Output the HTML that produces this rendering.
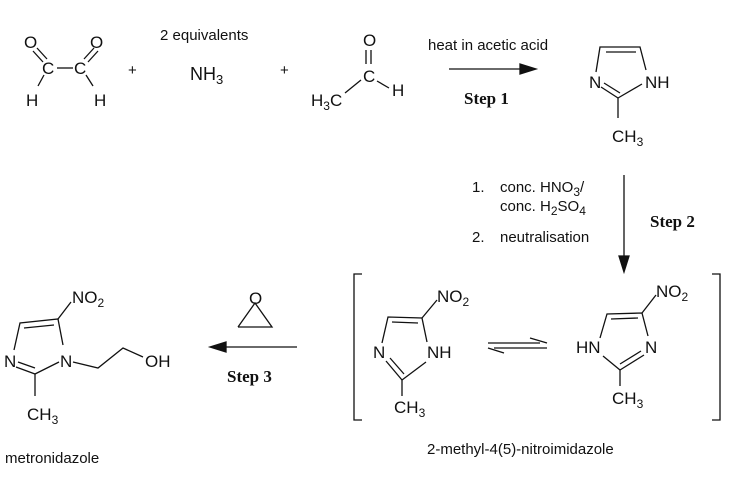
<!DOCTYPE html>
<html><head><style>body{margin:0;background:#fff}svg{display:block}
text{font-family:"Liberation Sans",Arial,sans-serif;font-size:17px;fill:#111}
.s{font-size:15px}.b{font-family:"Liberation Serif",serif;font-weight:bold;font-size:17px}
.sub{font-size:12px}</style></head><body>
<svg width="733" height="479" viewBox="0 0 733 479" xmlns="http://www.w3.org/2000/svg" stroke="#111" stroke-width="1.3" fill="none">
<g>
<line x1="33" y1="51" x2="43" y2="62"/><line x1="37" y1="48" x2="47" y2="59"/>
<line x1="98" y1="51" x2="88" y2="62"/><line x1="94" y1="48" x2="84" y2="59"/>
<line x1="57" y1="68" x2="73" y2="68"/>
<line x1="44" y1="75" x2="38" y2="86"/><line x1="86" y1="75" x2="93" y2="86"/>
</g>
<g stroke="none">
<text x="24" y="48">O</text><text x="90" y="48">O</text>
<text x="42" y="74">C</text><text x="74" y="74">C</text>
<text x="26" y="106">H</text><text x="94" y="106">H</text>
<text x="128" y="75" class="s">+</text>
<text x="160" y="40" class="s">2 equivalents</text>
<text x="190" y="80" style="font-size:18px">NH<tspan class="sub" dy="4" style="font-size:13px">3</tspan></text>
<text x="280" y="75" class="s">+</text>
<text x="363" y="46">O</text><text x="363" y="82">C</text>
<text x="311" y="106">H<tspan class="sub" dy="4">3</tspan><tspan dy="-4">C</tspan></text>
<text x="392" y="96">H</text>
<text x="428" y="50" class="s">heat in acetic acid</text>
<text x="464" y="104" class="b">Step 1</text>
</g>
<line x1="366" y1="50" x2="366" y2="64"/><line x1="371" y1="50" x2="371" y2="64"/>
<line x1="345" y1="93" x2="361" y2="80"/><line x1="377" y1="81" x2="389" y2="88"/>
<line x1="449" y1="69" x2="522" y2="69"/><polygon points="536,69 520,64 520,74" fill="#111"/>
<polyline points="596,72 600,47 640,47 646,70"/>
<line x1="606" y1="52" x2="636" y2="52"/>
<line x1="601" y1="87" x2="618" y2="98"/><line x1="604" y1="83" x2="620" y2="93"/>
<line x1="618" y1="98" x2="642" y2="84"/><line x1="618" y1="98" x2="618" y2="118"/>
<g stroke="none">
<text x="589" y="88">N</text><text x="645" y="88">NH</text>
<text x="612" y="142">CH<tspan class="sub" dy="4">3</tspan></text>
<text x="472" y="192" class="s">1.</text><text x="500" y="192" class="s">conc. HNO<tspan class="sub" dy="4">3</tspan><tspan dy="-4">/</tspan></text>
<text x="500" y="211" class="s">conc. H<tspan class="sub" dy="4">2</tspan><tspan dy="-4">SO</tspan><tspan class="sub" dy="4">4</tspan></text>
<text x="472" y="242" class="s">2.</text><text x="500" y="242" class="s">neutralisation</text>
<text x="650" y="227" class="b">Step 2</text>
</g>
<line x1="624" y1="175" x2="624" y2="258"/><polygon points="624,272 619,256 629,256" fill="#111"/>
<polyline points="362,274 354,274 354,420 362,420"/>
<polyline points="712,274 720,274 720,420 712,420"/>
<polyline points="382,343 388,317 422,318 427,342"/>
<line x1="392" y1="322" x2="418" y2="323"/>
<line x1="422" y1="318" x2="437" y2="300"/>
<line x1="386" y1="361" x2="402" y2="380"/><line x1="390" y1="358" x2="404" y2="374"/>
<line x1="402" y1="380" x2="426" y2="362"/><line x1="402" y1="380" x2="402" y2="396"/>
<g stroke="none">
<text x="437" y="302">NO<tspan class="sub" dy="4">2</tspan></text>
<text x="373" y="358">N</text><text x="427" y="358">NH</text>
<text x="394" y="413">CH<tspan class="sub" dy="4">3</tspan></text>
</g>
<line x1="488" y1="343" x2="540" y2="343"/><polyline points="530,338 547,343" />
<line x1="494" y1="348" x2="547" y2="348"/><polyline points="504,353 488,348"/>
<polyline points="600,338 607,314 642,313 648,336"/>
<line x1="611" y1="319" x2="638" y2="318"/>
<line x1="642" y1="313" x2="656" y2="295"/>
<line x1="603" y1="356" x2="620" y2="370"/>
<line x1="620" y1="370" x2="644" y2="355"/><line x1="620" y1="364" x2="641" y2="351"/>
<line x1="620" y1="370" x2="620" y2="386"/>
<g stroke="none">
<text x="656" y="297">NO<tspan class="sub" dy="4">2</tspan></text>
<text x="576" y="353">HN</text><text x="645" y="353">N</text>
<text x="612" y="404">CH<tspan class="sub" dy="4">3</tspan></text>
<text x="427" y="454" class="s">2-methyl-4(5)-nitroimidazole</text>
</g>
<polyline points="238,327 255,303 272,327 238,327"/>
<g stroke="none"><text x="249" y="304">O</text>
<text x="227" y="382" class="b">Step 3</text></g>
<line x1="297" y1="347" x2="222" y2="347"/><polygon points="210,347 226,342 226,352" fill="#111"/>
<polyline points="14,350 20,323 58,319 63,345"/>
<line x1="24" y1="328" x2="54" y2="325"/>
<line x1="58" y1="319" x2="71" y2="302"/>
<line x1="16" y1="367" x2="35" y2="374"/><line x1="18" y1="362" x2="35" y2="368"/>
<line x1="35" y1="374" x2="59" y2="362"/><line x1="35" y1="374" x2="35" y2="396"/>
<polyline points="73,362 98,368 123,348 143,357"/>
<g stroke="none">
<text x="72" y="303">NO<tspan class="sub" dy="4">2</tspan></text>
<text x="4" y="367">N</text><text x="60" y="367">N</text>
<text x="145" y="367">OH</text>
<text x="27" y="420">CH<tspan class="sub" dy="4">3</tspan></text>
<text x="5" y="463" class="s">metronidazole</text>
</g>
</svg>
</body></html>
